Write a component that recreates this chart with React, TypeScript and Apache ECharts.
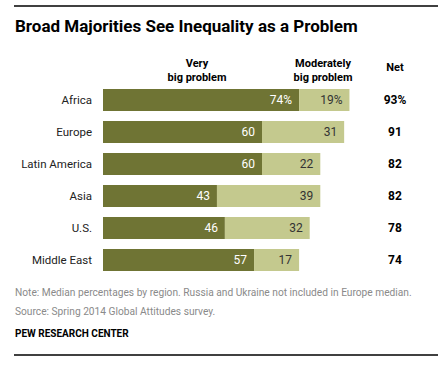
import React, { useEffect, useRef } from "react";
import * as echarts from "echarts";

const categories = ["Africa", "Europe", "Latin America", "Asia", "U.S.", "Middle East"];
const veryBig = [74, 60, 60, 43, 46, 57];
const moderately = [19, 31, 22, 39, 32, 17];
const net = [93, 91, 82, 82, 78, 74];

const DARK = "#6f7434";
const LIGHT = "#c4c98e";
const FONT = "'Roboto', 'Liberation Sans', Arial, sans-serif";
const BODY = "'Roboto', 'Liberation Sans', Arial, sans-serif";

export default function App() {
  const ref = useRef<HTMLDivElement>(null);
  useEffect(() => {
    const chart = echarts.init(ref.current!, null, { renderer: "svg" });
    chart.setOption({
      animation: false,
      backgroundColor: "#ffffff",
      grid: { left: 103, top: 84, width: 265, height: 192, containLabel: false },
      xAxis: { type: "value", min: 0, max: 100, show: false },
      yAxis: [
        {
          type: "category",
          data: categories,
          inverse: true,
          axisLine: { show: false },
          axisTick: { show: false },
          axisLabel: { color: "#222", fontSize: 11.5, fontFamily: BODY, margin: 11 },
        },
        {
          type: "category",
          position: "right",
          data: net.map((v, i) => (i === 0 ? v + "%" : String(v))),
          inverse: true,
          axisLine: { show: false },
          axisTick: { show: false },
          axisLabel: {
            color: "#000",
            fontSize: 12,
            fontWeight: "bold",
            fontFamily: BODY,
            align: "center",
            margin: 27,
          },
        },
      ],
      series: [
        {
          type: "bar",
          stack: "t",
          data: veryBig,
          barWidth: 22,
          itemStyle: { color: DARK },
          label: {
            show: true,
            position: "insideRight",
            color: "#fff",
            fontSize: 12,
            fontFamily: BODY,
            distance: 7,
            formatter: (p: any) => (p.dataIndex === 0 ? p.value + "%" : String(p.value)),
          },
        },
        {
          type: "bar",
          stack: "t",
          data: moderately,
          barWidth: 22,
          itemStyle: { color: LIGHT },
          label: {
            show: true,
            position: "insideRight",
            color: "#333",
            fontSize: 12,
            fontFamily: BODY,
            distance: 7,
            formatter: (p: any) => (p.dataIndex === 0 ? p.value + "%" : String(p.value)),
          },
        },
      ],
      graphic: [
        { type: "line", shape: { x1: 14, y1: 6, x2: 438, y2: 6 }, style: { stroke: "#000", lineWidth: 1.5 } },
        {
          type: "text",
          left: 15,
          top: 17,
          style: { text: "Broad Majorities See Inequality as a Problem", font: `bold 17px ${FONT}`, fill: "#000" },
        },
        {
          type: "text",
          x: 197,
          y: 56,
          style: { text: "Very\nbig problem", font: `bold 11px ${FONT}`, fill: "#000", align: "center", lineHeight: 14 },
        },
        {
          type: "text",
          x: 323,
          y: 56,
          style: { text: "Moderately\nbig problem", font: `bold 11px ${FONT}`, fill: "#000", align: "center", lineHeight: 14 },
        },
        {
          type: "text",
          x: 395,
          y: 62,
          style: { text: "Net", font: `bold 11px ${FONT}`, fill: "#000", align: "center" },
        },
        {
          type: "text",
          left: 15,
          top: 287,
          style: {
            text: "Note: Median percentages by region. Russia and Ukraine not included in Europe median.",
            font: `10.2px ${FONT}`,
            fill: "#8a8a8a",
          },
        },
        {
          type: "text",
          left: 15,
          top: 306,
          style: { text: "Source: Spring 2014 Global Attitudes survey.", font: `10.2px ${FONT}`, fill: "#8a8a8a" },
        },
        {
          type: "text",
          left: 15,
          top: 328,
          style: { text: "PEW RESEARCH CENTER", font: `bold 10px ${FONT}`, fill: "#000" },
        },
        { type: "line", shape: { x1: 14, y1: 355, x2: 438, y2: 355 }, style: { stroke: "#000", lineWidth: 1.5 } },
      ],
    });
    return () => chart.dispose();
  }, []);
  return <div ref={ref} style={{ width: 438, height: 370, position: "absolute", left: 0, top: 0 }} />;
}
